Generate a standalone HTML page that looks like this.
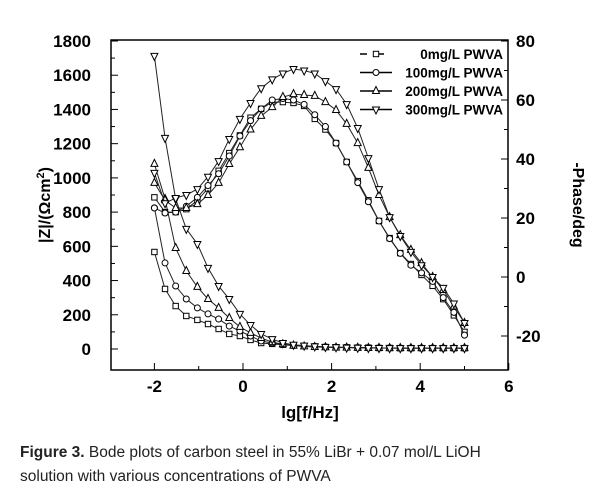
<!DOCTYPE html>
<html><head><meta charset="utf-8"><style>
body{margin:0;background:#fff;width:602px;height:494px;overflow:hidden}
svg text{font-family:"Liberation Sans",Arial,sans-serif}
</style></head><body>
<svg id="chart" width="602" height="494" viewBox="0 0 602 494">
<g id="axes"></g><g id="series"></g>
<g font-size="13.5" font-weight="bold" id="legend"></g>
<text x="310" y="418" font-size="17" font-weight="bold" text-anchor="middle">lg[f/Hz]</text>
<text transform="translate(50,205) rotate(-90)" font-size="16" font-weight="bold" text-anchor="middle">|Z|/(Ωcm<tspan dy="-6" font-size="11">2</tspan><tspan dy="6">)</tspan></text>
<text transform="translate(573,205) rotate(90)" font-size="16" font-weight="bold" text-anchor="middle">-Phase/deg</text>
<text x="20" y="457" font-size="15.5" fill="#222"><tspan font-weight="bold">Figure 3.</tspan> Bode plots of carbon steel in 55% LiBr + 0.07 mol/L LiOH</text>
<text x="20" y="481" font-size="15.5" fill="#222">solution with various concentrations of PWVA</text>
</svg>
<script>
const xVals=[-2,-1.76,-1.52,-1.28,-1.03,-0.79,-0.55,-0.31,-0.07,0.17,0.41,0.66,0.9,1.14,1.38,1.62,1.86,2.1,2.34,2.59,2.83,3.07,3.31,3.55,3.79,4.03,4.28,4.52,4.76,5];
const seriesNames=["0mg/L PWVA","100mg/L PWVA","200mg/L PWVA","300mg/L PWVA"];
const z0=[567,351,251,193,170,146,117,88,76,53,35,30,25,20,18,15,12,10,10,8,8,6,6,5,5,5,5,5,5,5];
const z1=[825,503,368,292,240,205,175,134,105,76,47,35,28,22,18,15,12,10,9,8,7,6,6,5,5,5,5,5,5,5];
const z2=[1082,877,590,456,363,292,240,181,129,94,64,40,28,20,15,12,10,8,8,7,6,6,5,5,5,5,5,5,5,5];
const z3=[1713,1234,877,702,614,474,368,292,205,140,88,58,35,25,20,15,12,10,8,7,6,6,5,5,5,5,5,5,5,5];
const p0=[27,22,22,23,26,30,36,42,48,54,57,59.3,59.3,59,58,53.6,50,45.4,39,32.5,26,19,13.2,8.1,4.4,0.7,-3,-7.5,-13,-18.6];
const p1=[23.4,21.7,22,24,27,31,35,41,47.8,53,57,60,60.5,60,58.5,55,51,45.4,39,32,25.5,19,13,8,4,1.4,-1.5,-7,-12,-19.7];
const p2=[31.9,26,23.4,23.4,24.7,27.8,31.9,38.3,44,50,54.6,57.6,61,62,61.7,61.4,59.3,56.6,51.9,45.4,37,27.8,20.3,14.2,9.2,4.7,0,-4.4,-10,-15.6];
const p3=[35.3,25,26.8,27.8,29.8,34,39.3,46.8,53.6,59,64,67,69,70.5,70,69,66.4,63.7,58.6,50.5,40.3,29.8,20.3,13.9,8.5,4,0,-3.7,-9,-15.6];
const xTicks=[-2,0,2,4,6];
const yLeftTicks=[0,200,400,600,800,1000,1200,1400,1600,1800];
const yRightTicks=[-20,0,20,40,60,80];

const L=111,R=508,T=40,B=370;
const sx=v=>243+v*44.3;
const syL=v=>349-v*(308/1800);
const syR=v=>277-v*(59/20);
const NS="http://www.w3.org/2000/svg";
function mk(tag,attrs,parent){const e=document.createElementNS(NS,tag);for(const k in attrs)e.setAttribute(k,attrs[k]);parent.appendChild(e);return e;}
const ax=document.getElementById('axes');
const frame=mk('rect',{x:L,y:T,width:R-L,height:B-T,fill:'none',stroke:'#000','stroke-width':1.5},ax);


xTicks.forEach(v=>{const x=sx(v);
 mk('line',{x1:x,y1:B,x2:x,y2:B-7,stroke:'#000'},ax);
 const t=mk('text',{x:x,y:B+22,'font-size':17,'font-weight':'bold','text-anchor':'middle'},ax);t.textContent=v;
 
 
 const m=sx(v-1); if(m>L) mk('line',{x1:m,y1:B,x2:m,y2:B-4,stroke:'#000'},ax);
});
yLeftTicks.forEach(v=>{const y=syL(v);
 mk('line',{x1:L,y1:y,x2:L+7,y2:y,stroke:'#000'},ax);
 if(v<1800) mk('line',{x1:L,y1:syL(v+100),x2:L+4,y2:syL(v+100),stroke:'#000'},ax);
 const t=mk('text',{x:L-20,y:y+6,'font-size':17,'font-weight':'bold','text-anchor':'end'},ax);t.textContent=v;
 
 
});
yRightTicks.forEach(v=>{const y=syR(v);
 mk('line',{x1:R,y1:y,x2:R-7,y2:y,stroke:'#000'},ax);
 if(v<80) mk('line',{x1:R,y1:syR(v+10),x2:R-4,y2:syR(v+10),stroke:'#000'},ax);
 const t=mk('text',{x:R+8,y:y+6,'font-size':17,'font-weight':'bold'},ax);t.textContent=(v<0?'-':'')+Math.abs(v);
 
 
});
function marker(type,x,y,parent){
 const s=3.5;let pts;
 if(type==0) return mk('rect',{x:x-2.7,y:y-2.7,width:5.4,height:5.4,fill:'#fff',stroke:'#000'},parent);
 if(type==1) return mk('circle',{cx:x,cy:y,r:3,fill:'#fff',stroke:'#000'},parent);
 if(type==2) pts=[[x,y-s-1],[x-s,y+s-1],[x+s,y+s-1]];
 else pts=[[x,y+s+1],[x-s,y-s+1],[x+s,y-s+1]];
 return mk('polygon',{points:pts.map(p=>p.join(',')).join(' '),fill:'#fff',stroke:'#000'},parent);
}
const sg=document.getElementById('series');
const Zs=[z0,z1,z2,z3],Ps=[p0,p1,p2,p3];
Zs.forEach((arr,k)=>{
 const g=mk('g',{},sg);
 
 
 mk('polyline',{points:arr.map((v,i)=>sx(xVals[i])+','+syL(v)).join(' '),fill:'none',stroke:'#222','stroke-width':1},g);
 arr.forEach((v,i)=>{const m=marker(k,sx(xVals[i]),syL(v),g);
  
  });
});
Ps.forEach((arr,k)=>{
 const g=mk('g',{},sg);
 
 
 mk('polyline',{points:arr.map((v,i)=>sx(xVals[i])+','+syR(v)).join(' '),fill:'none',stroke:'#222','stroke-width':1},g);
 arr.forEach((v,i)=>{const m=marker(k,sx(xVals[i]),syR(v),g);
  
  });
});
const lg=document.getElementById('legend');
seriesNames.forEach((n,k)=>{const y=54+k*18.5;
 const g=mk('g',{},lg);
 
 
 mk('line',{x1:360,y1:y,x2:392,y2:y,stroke:'#000','stroke-width':1.5,'stroke-dasharray':k==0?'7,10':'none'},g);
 marker(k,376,y,g);
 const t=mk('text',{x:503,y:y+5,'text-anchor':'end'},g);t.textContent=n;
});
</script>
</body></html>
